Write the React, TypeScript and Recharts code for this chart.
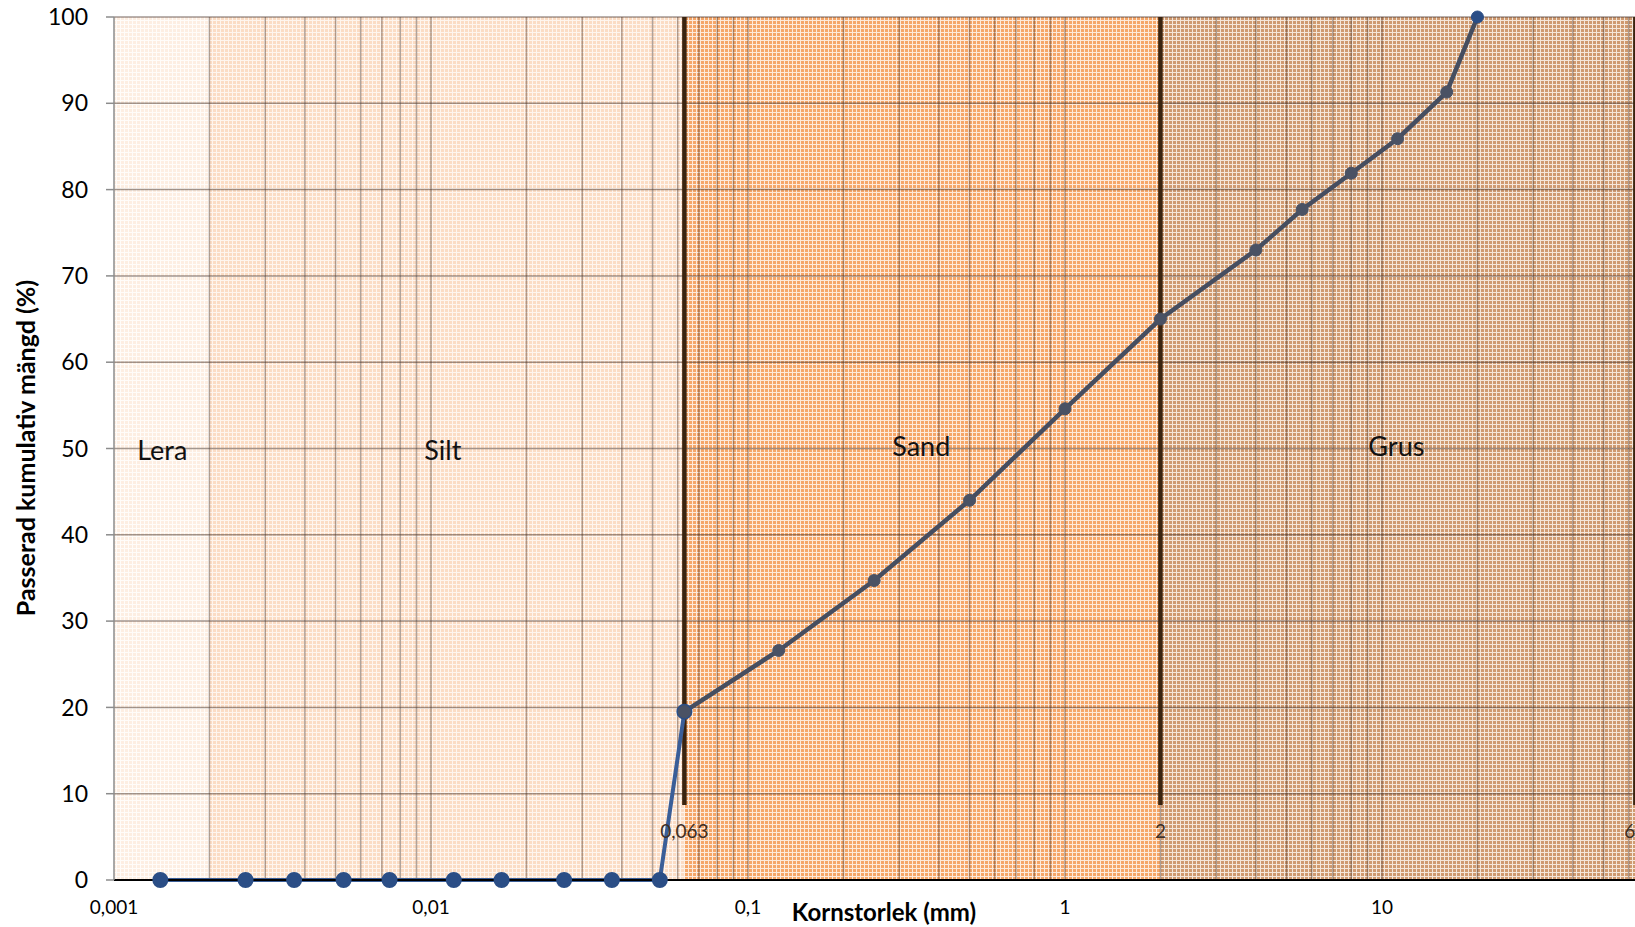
import {
  ComposedChart,
  Line,
  XAxis,
  YAxis,
  CartesianGrid,
  ReferenceArea,
  ReferenceLine,
  ReferenceDot,
} from 'recharts';

// Siktkurva: passerad mängd mot kornstorlek (log-skala)
const FINE_SIZES = [0.0014, 0.0026, 0.0037, 0.0053, 0.0074, 0.0118, 0.0167, 0.0263, 0.0372, 0.0527, 0.063];
const FINE_PASSING = [0, 0, 0, 0, 0, 0, 0, 0, 0, 0, 19.5];

const COARSE_SIZES = [0.063, 0.125, 0.25, 0.5, 1, 2, 4, 5.6, 8, 11.2, 16, 20];
const COARSE_PASSING = [19.5, 26.6, 34.7, 44.0, 54.6, 65.0, 73.0, 77.7, 81.9, 85.9, 91.3, 100];

const X_TICKS = [0.001, 0.01, 0.1, 1, 10];
const Y_TICKS = [0, 10, 20, 30, 40, 50, 60, 70, 80, 90, 100];

// jordartsgränser
const ZONE_NAMES = ['Lera', 'Silt', 'Sand', 'Grus'];
const ZONE_BOUNDS = [0.001, 0.002, 0.063, 2, 63];
const ZONE_LABEL_X = [0.00142, 0.0109, 0.352, 11.1];
const ZONE_LABEL_Y = [49.8, 49.8, 50.2, 50.2];

const BOUNDARIES = [0.063, 2, 63];
const BOUNDARY_LABELS = ['0,063', '2', '63'];

const DECADES = [0.001, 0.01, 0.1, 1, 10];
const MULTIPLIERS = [1, 2, 3, 4, 5, 6, 7, 8, 9];

// rutmönster som i Excel-fyllningen: bas + ljusa linjer
const ZONE_BASE = ['#FDEEE2', '#FBDCC4', '#F5A668', '#CF9A70'];
const ZONE_LINES = ['#FFFCF9', '#FEF5EE', '#FDEADB', '#F5E7DA'];
const FONT = 'Lato, "Open Sans", sans-serif';

const fineData = FINE_SIZES.map((size, i) => ({ size, pass: FINE_PASSING[i] }));
const coarseData = COARSE_SIZES.map((size, i) => ({ size, pass: COARSE_PASSING[i] }));

const gridLines = DECADES.flatMap(d => MULTIPLIERS.map(m => +(d * m).toPrecision(3)))
  .filter(v => v > 0.001);

const fmt = (v: number) => String(v).replace('.', ',');

const CoarseDot = (props: any) => {
  const { cx, cy, index } = props;
  if (cx == null || cy == null) return null;
  const last = index === coarseData.length - 1;
  return (
    <circle
      key={`cd-${index}`}
      cx={cx}
      cy={cy}
      r={6}
      fill={last ? '#2B4E86' : '#4A5264'}
      stroke={last ? '#2B4E86' : '#4A5264'}
    />
  );
};

export default function App() {
  return (
    <div
      style={{
        position: 'fixed',
        left: 0,
        top: 0,
        width: 1635,
        height: 927,
        overflow: 'hidden',
        background: '#fff',
        fontFamily: FONT,
      }}
    >
      <ComposedChart
        width={1720}
        height={927}
        margin={{ top: 17, right: 21, left: 14, bottom: 7 }}
      >
        <defs>
          {ZONE_NAMES.map((name, i) => (
            <pattern
              key={`p-${name}`}
              id={`zone-${i}`}
              patternUnits="userSpaceOnUse"
              width={4}
              height={4}
            >
              <rect x={0} y={0} width={4} height={4} fill={ZONE_LINES[i]} />
              <rect x={1} y={1} width={3} height={3} fill={ZONE_BASE[i]} />
            </pattern>
          ))}
        </defs>
        {ZONE_NAMES.map((name, i) => (
          <ReferenceArea
            key={name}
            x1={ZONE_BOUNDS[i]}
            x2={ZONE_BOUNDS[i + 1]}
            y1={0}
            y2={100}
            fill={`url(#zone-${i})`}
            fillOpacity={1}
            stroke="none"
            zIndex={-300}
          />
        ))}
        <CartesianGrid
          vertical={false}
          stroke="rgba(70,50,40,0.5)"
          strokeWidth={1.5}
          zIndex={-100}
        />
        {gridLines.map(v => (
          <ReferenceLine
            key={`g-${v}`}
            x={v}
            stroke="rgba(70,50,40,0.42)"
            strokeWidth={1.5}
            zIndex={-100}
          />
        ))}
        {BOUNDARIES.map(b => (
          <ReferenceLine
            key={`b-${b}`}
            segment={[{ x: b, y: 8.7 }, { x: b, y: 100 }]}
            stroke="#3A2410"
            strokeWidth={4.5}
            zIndex={-50}
          />
        ))}
        {BOUNDARIES.map((b, i) => (
          <ReferenceDot
            key={`bl-${b}`}
            x={b}
            y={5.7}
            r={1}
            fillOpacity={0}
            stroke="none"
            label={{ value: BOUNDARY_LABELS[i], position: 'center', fill: '#3E2E24', fontSize: 19, fontFamily: FONT }}
          />
        ))}
        {ZONE_NAMES.map((name, i) => (
          <ReferenceDot
            key={`zl-${name}`}
            x={ZONE_LABEL_X[i]}
            y={ZONE_LABEL_Y[i]}
            r={1}
            fillOpacity={0}
            stroke="none"
            label={{ value: name, position: 'center', fill: '#111', fontSize: 27, fontFamily: FONT }}
          />
        ))}
        <XAxis
          dataKey="size"
          type="number"
          scale="log"
          domain={[0.001, 100]}
          ticks={X_TICKS}
          tickFormatter={fmt}
          allowDataOverflow
          height={40}
          axisLine={{ stroke: '#000', strokeWidth: 2 }}
          tickLine={false}
          tickSize={8}
          tickMargin={13}
          tick={{ fill: '#000', fontSize: 19, fontFamily: FONT }}
        />
        <YAxis
          type="number"
          domain={[0, 100]}
          ticks={Y_TICKS}
          width={100}
          axisLine={{ stroke: '#8C8C8C', strokeWidth: 1.5 }}
          tickLine={{ stroke: '#8C8C8C', strokeWidth: 1.5 }}
          tickSize={8}
          tickMargin={18}
          tick={{ fill: '#000', fontSize: 23, fontFamily: FONT }}
        />
        <Line
          data={fineData}
          dataKey="pass"
          type="linear"
          stroke="#3A5E98"
          strokeWidth={4}
          dot={{ r: 6, fill: '#2B4E86', stroke: '#2B4E86' }}
          isAnimationActive={false}
        />
        <Line
          data={coarseData}
          dataKey="pass"
          type="linear"
          stroke="#464E60"
          strokeWidth={4.5}
          dot={CoarseDot}
          isAnimationActive={false}
        />
      </ComposedChart>
      <div
        style={{
          position: 'absolute',
          left: 25,
          top: 448,
          transform: 'translate(-50%, -50%) rotate(-90deg)',
          whiteSpace: 'nowrap',
          lineHeight: 1,
          fontWeight: 700,
          fontSize: 25,
          color: '#000',
        }}
      >
        Passerad kumulativ mängd (%)
      </div>
      <div
        style={{
          position: 'absolute',
          left: 884,
          top: 912,
          transform: 'translate(-50%, -50%)',
          whiteSpace: 'nowrap',
          lineHeight: 1,
          fontWeight: 700,
          fontSize: 24,
          color: '#000',
        }}
      >
        Kornstorlek (mm)
      </div>
    </div>
  );
}
